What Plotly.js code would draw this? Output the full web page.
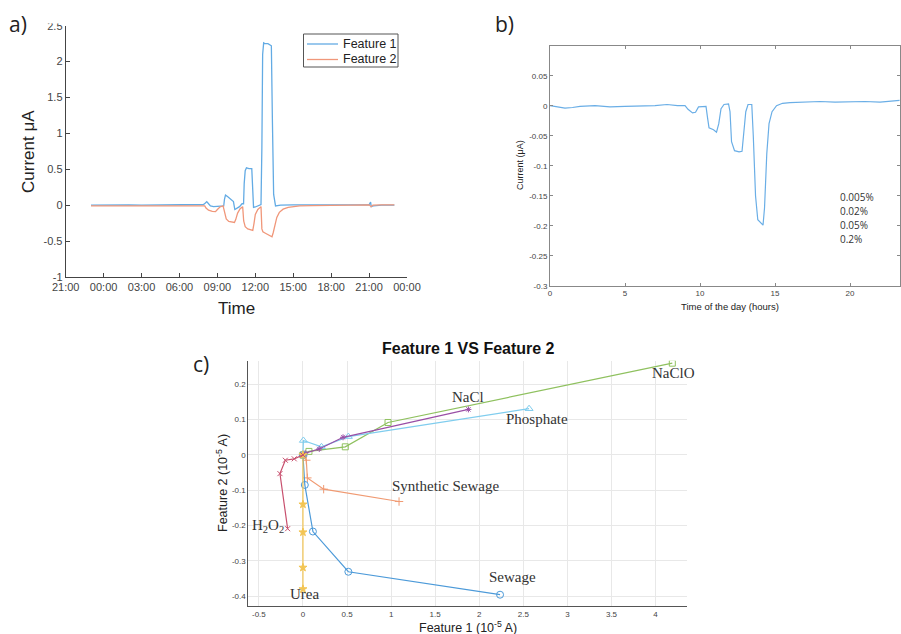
<!DOCTYPE html>
<html><head><meta charset="utf-8">
<script src="https://cdn.plot.ly/plotly-3.0.1.min.js"></script>
<style>html,body{margin:0;padding:0;background:#fff}#chart{width:901px;height:634px}</style>
</head><body><div id="chart"></div>
<script>
// ---------- Panel a: Feature 1 / Feature 2 vs time (hours from midnight) ----------
const timeTicksA = [-3, 0, 3, 6, 9, 12, 15, 18, 21, 24];
const timeLabelsA = ['21:00','00:00','03:00','06:00','09:00','12:00','15:00','18:00','21:00','00:00'];
const yTicksA = [-1, -0.5, 0, 0.5, 1, 1.5, 2, 2.5];
const yLabelsA = ['-1','-0.5','0','0.5','1','1.5','2','2.5'];
const seriesNamesA = ['Feature 1', 'Feature 2'];

const feat1Time = [-1, 0, 1, 2, 3, 4, 5, 6, 7, 7.9, 8.05, 8.16, 8.3, 8.45, 8.7, 9.0, 9.3, 9.5, 9.56, 9.64, 9.8, 10.0, 10.2, 10.27, 10.38, 10.55, 10.75, 10.95, 11.07, 11.12, 11.2, 11.3, 11.5, 11.72, 11.78, 11.86, 12.0, 12.2, 12.45, 12.52, 12.58, 12.66, 12.75, 13.0, 13.2, 13.27, 13.35, 13.45, 13.6, 14, 15, 16, 17, 18, 19, 20, 21, 21.12, 21.17, 21.22, 21.35, 22, 23];
const feat1Vals = [0, 0.005, 0, 0.005, 0, 0, 0.005, 0, 0.005, 0.01, 0.03, 0.05, 0.02, -0.01, -0.02, -0.02, -0.015, -0.01, 0.08, 0.14, 0.12, 0.085, 0.06, 0.05, -0.06, -0.045, -0.02, 0.02, 0.02, 0.3, 0.48, 0.52, 0.51, 0.51, 0.2, -0.03, -0.025, -0.01, 0.01, 0.8, 2.1, 2.26, 2.25, 2.25, 2.23, 2.22, 1.2, 0.15, -0.01, 0, 0.005, 0, 0.005, 0.005, 0.005, 0, 0.005, 0.045, -0.02, -0.015, -0.01, 0, 0];

const feat2Time = [-1, 0, 2, 4, 6, 7.5, 8.0, 8.1, 8.3, 8.6, 8.85, 9.0, 9.2, 9.45, 9.58, 9.7, 9.9, 10.1, 10.35, 10.45, 10.6, 10.8, 11.0, 11.08, 11.2, 11.4, 11.6, 11.8, 11.9, 12.0, 12.2, 12.45, 12.52, 12.6, 12.8, 13.0, 13.2, 13.32, 13.42, 13.55, 13.7, 13.9, 14.2, 14.6, 15.0, 15.5, 16.5, 18, 20, 21, 21.17, 21.3, 22, 23];
const feat2Vals = [-0.01, -0.01, -0.005, -0.005, -0.005, -0.005, -0.01, -0.04, -0.07, -0.085, -0.09, -0.06, -0.025, -0.01, -0.12, -0.19, -0.225, -0.235, -0.24, -0.2, -0.11, -0.05, -0.02, -0.22, -0.3, -0.33, -0.34, -0.35, -0.25, -0.13, -0.06, -0.02, -0.33, -0.37, -0.39, -0.405, -0.42, -0.44, -0.38, -0.27, -0.17, -0.1, -0.055, -0.03, -0.018, -0.01, -0.005, 0, 0.005, 0.005, -0.02, 0, 0.005, 0.005];

// ---------- Panel b: current vs time of day ----------
const hoursB = [0, 0.5, 1.0, 1.5, 2, 3, 4, 5, 6, 7, 7.8, 8.5, 9.0, 9.2, 9.5, 9.7, 9.9, 10.4, 10.5, 10.6, 10.9, 11.1, 11.25, 11.4, 11.6, 11.9, 12.0, 12.1, 12.3, 12.6, 12.8, 12.9, 13.05, 13.2, 13.45, 13.55, 13.7, 13.85, 14.1, 14.2, 14.3, 14.45, 14.6, 14.8, 15.1, 15.5, 16, 17, 18, 19, 20, 21, 22, 23, 23.3];
const currentB = [0, -0.002, -0.004, -0.003, -0.001, 0, -0.002, -0.001, -0.001, 0, 0.002, 0, 0, -0.006, -0.012, -0.011, -0.002, -0.001, -0.02, -0.037, -0.04, -0.044, -0.03, -0.005, 0.002, 0.003, -0.01, -0.06, -0.075, -0.077, -0.076, -0.05, -0.01, 0.002, 0.002, -0.05, -0.15, -0.19, -0.196, -0.199, -0.17, -0.08, -0.03, -0.01, 0, 0.004, 0.005, 0.006, 0.007, 0.006, 0.007, 0.007, 0.006, 0.008, 0.009];
const xTicksB = [0, 5, 10, 15, 20];
const yTicksB = [-0.3, -0.25, -0.2, -0.15, -0.1, -0.05, 0, 0.05];
const yLabelsB = ['-0.3','-0.25','-0.2','-0.15','-0.1','-0.05','0','0.05'];
const concLabels = ['0.005%', '0.02%', '0.05%', '0.2%'];

// ---------- Panel c: Feature 1 vs Feature 2 ----------
const naclo_x = [0, 0.068, 0.48, 0.965, 4.19];
const naclo_y = [0, 0.01, 0.023, 0.092, 0.26];
const nacl_x = [0, 0.025, 0.185, 0.455, 1.877];
const nacl_y = [0, 0.005, 0.017, 0.05, 0.129];
const phos_x = [0, 0.005, 0.21, 0.515, 2.565];
const phos_y = [0, 0.041, 0.023, 0.052, 0.131];
const synth_x = [0, 0.038, 0.05, 0.235, 1.09];
const synth_y = [0, -0.015, -0.065, -0.097, -0.132];
const sew_x = [0, 0.021, 0.113, 0.515, 2.236];
const sew_y = [0, -0.085, -0.217, -0.331, -0.396];
const urea_x = [0, 0, 0, 0, 0];
const urea_y = [0, -0.14, -0.219, -0.319, -0.38];
const h2o2_x = [0, -0.099, -0.2, -0.261, -0.174];
const h2o2_y = [0, -0.011, -0.015, -0.053, -0.209];
const xTicksC = [-0.5, 0, 0.5, 1, 1.5, 2, 2.5, 3, 3.5, 4];
const xLabelsC = ['-0.5','0','0.5','1','1.5','2','2.5','3','3.5','4'];
const yTicksC = [-0.4, -0.3, -0.2, -0.1, 0, 0.1, 0.2];
const yLabelsC = ['-0.4','-0.3','-0.2','-0.1','0','0.1','0.2'];

// ---------- layout helpers (pixel -> paper) ----------
const W = 901, H = 634;
const px = v => v / W;
const py = v => 1 - v / H;

const blueA = '#63abe4', orangeA = '#f0977a';
const sans = 'Liberation Sans, Arial, sans-serif';
const serif = 'Liberation Serif, Times New Roman, serif';

const traces = [
  {x: feat1Time, y: feat1Vals, xaxis: 'x', yaxis: 'y', mode: 'lines', name: seriesNamesA[0], showlegend: false, line: {color: blueA, width: 1.3}},
  {x: feat2Time, y: feat2Vals, xaxis: 'x', yaxis: 'y', mode: 'lines', name: seriesNamesA[1], showlegend: false, line: {color: orangeA, width: 1.3}},
  {x: hoursB, y: currentB, xaxis: 'x2', yaxis: 'y2', mode: 'lines', showlegend: false, line: {color: '#6aaee6', width: 1.2}},
];
function cTrace(xs, ys, color, symbol, size) {
  return {x: xs, y: ys, xaxis: 'x3', yaxis: 'y3', mode: 'lines+markers', showlegend: false,
    line: {color: color, width: 1.2},
    marker: {color: color, symbol: symbol, size: size, line: {color: color, width: 1}}};
}
traces.push(cTrace(naclo_x, naclo_y, '#8fc15f', 'square-open', 6));
traces.push(cTrace(phos_x, phos_y, '#80cdee', 'triangle-up-open', 7));
traces.push(cTrace(nacl_x, nacl_y, '#9a4fa6', 'asterisk-open', 5));
traces.push(cTrace(synth_x, synth_y, '#f09a72', 'cross-thin-open', 6));
traces.push(cTrace(sew_x, sew_y, '#4c9ad9', 'circle-open', 7));
traces.push(cTrace(urea_x, urea_y, '#f3c553', 'star', 6));
traces.push(cTrace(h2o2_x, h2o2_y, '#c8506e', 'x-thin-open', 5));

const tickFontA = {family: sans, size: 11, color: '#444'};
const tickFontS = {family: sans, size: 8, color: '#444'};

function ann(text, x, y, size, opts) {
  return Object.assign({text: text, x: px(x), y: py(y), xref: 'paper', yref: 'paper', showarrow: false,
    xanchor: 'center', yanchor: 'middle', font: {family: sans, size: size, color: '#222'}}, opts || {});
}
const labelFont = {family: 'Open Sans, sans-serif', size: 21, color: '#222'};
const serifFont = {family: serif, size: 15, color: '#333'};

const annotations = [
  ann('a)', 18, 24, 21, {font: labelFont}),
  ann('b)', 504, 24, 21, {font: labelFont}),
  ann('c)', 201, 364, 21, {font: labelFont}),
  ann('Current μA', 29, 151, 17, {textangle: -90}),
  ann('Time', 237, 308, 17),
  ann('Current (μA)', 520, 165, 9, {textangle: -90}),
  ann('Time of the day (hours)', 730, 306, 9.5),
  ann('<b>Feature 1 VS Feature 2</b>', 468, 348, 16, {font: {family: sans, size: 16, color: '#111'}}),
  ann('Feature 1 (10<sup>-5</sup> A)', 468, 627, 12.5),
  ann('Feature 2 (10<sup>-5</sup> A)', 222, 483, 12.5, {textangle: -90}),
  ann('NaClO', 673, 373, 15, {font: serifFont}),
  ann('NaCl', 468, 397, 15, {font: serifFont}),
  ann('Phosphate', 537, 419, 15, {font: serifFont}),
  ann('Synthetic Sewage', 445, 486, 15, {font: serifFont}),
  ann('H<sub>2</sub>O<sub>2</sub>', 268, 526, 15, {font: serifFont}),
  ann('Sewage', 512, 577, 15, {font: serifFont}),
  ann('Urea', 304, 594, 15, {font: serifFont}),
  // legend texts for panel a
  ann(seriesNamesA[0], 341, 44, 12.5, {xanchor: 'left', font: {family: sans, size: 12.5, color: '#222'}}),
  ann(seriesNamesA[1], 341, 59.5, 12.5, {xanchor: 'left', font: {family: sans, size: 12.5, color: '#222'}}),
];
const concY = [197, 211, 225, 239];
concLabels.forEach((t, i) => annotations.push(ann(t, 838, concY[i], 10,
  {xanchor: 'left', font: {family: 'Open Sans, sans-serif', size: 10, color: '#333'}})));

const shapes = [
  {type: 'rect', xref: 'paper', yref: 'paper', x0: px(35), x1: px(64), y0: py(23.5), y1: 1,
    fillcolor: '#fff', line: {width: 0}, layer: 'above'},
  // legend box and samples (panel a)
  {type: 'rect', xref: 'paper', yref: 'paper', x0: px(303.5), x1: px(398), y0: py(67), y1: py(34),
    fillcolor: '#fff', line: {color: '#555', width: 1}, layer: 'above'},
  {type: 'line', xref: 'paper', yref: 'paper', x0: px(307), x1: px(338), y0: py(44), y1: py(44),
    line: {color: blueA, width: 1.3}, layer: 'above'},
  {type: 'line', xref: 'paper', yref: 'paper', x0: px(307), x1: px(338), y0: py(59.5), y1: py(59.5),
    line: {color: orangeA, width: 1.3}, layer: 'above'},
];

const layout = {
  width: W, height: H,
  margin: {l: 0, r: 0, t: 0, b: 0},
  paper_bgcolor: '#fff', plot_bgcolor: 'rgba(0,0,0,0)',
  showlegend: false,
  xaxis: {domain: [px(65.7), px(407)], range: [-3, 24], tickvals: timeTicksA, ticktext: timeLabelsA,
    showline: true, linecolor: '#444', linewidth: 1, ticks: 'inside', ticklen: 4, tickcolor: '#444',
    showgrid: false, zeroline: false, tickfont: tickFontA, anchor: 'y'},
  yaxis: {domain: [py(277), py(25.7)], range: [-1, 2.5], tickvals: yTicksA, ticktext: yLabelsA,
    showline: true, linecolor: '#444', linewidth: 1, ticks: 'inside', ticklen: 4, tickcolor: '#444',
    showgrid: false, zeroline: false, tickfont: tickFontA, anchor: 'x'},
  xaxis2: {domain: [px(550), px(900)], range: [0, 23.33], tickvals: xTicksB,
    showline: true, mirror: 'ticks', linecolor: '#888', linewidth: 1, ticks: 'inside', ticklen: 3, tickcolor: '#888',
    showgrid: false, zeroline: false, tickfont: tickFontS, anchor: 'y2'},
  yaxis2: {domain: [py(285.7), py(45.7)], range: [-0.3, 0.1], tickvals: yTicksB, ticktext: yLabelsB,
    showline: true, mirror: 'ticks', linecolor: '#888', linewidth: 1, ticks: 'inside', ticklen: 3, tickcolor: '#888',
    showgrid: false, zeroline: false, tickfont: tickFontS, anchor: 'x2'},
  xaxis3: {domain: [px(248.3), px(687.3)], range: [-0.62, 4.36], tickvals: xTicksC, ticktext: xLabelsC,
    showline: true, linecolor: '#555', linewidth: 1, ticks: '', showgrid: true, gridcolor: '#e8e8e8',
    zeroline: false, tickfont: tickFontS, anchor: 'y3'},
  yaxis3: {domain: [py(606), py(360.7)], range: [-0.428, 0.267], tickvals: yTicksC, ticktext: yLabelsC,
    showline: true, linecolor: '#555', linewidth: 1, ticks: '', showgrid: true, gridcolor: '#e8e8e8',
    zeroline: false, tickfont: tickFontS, anchor: 'x3'},
  annotations: annotations,
  shapes: shapes
};

Plotly.newPlot('chart', traces, layout, {displayModeBar: false, staticPlot: true});
</script></body></html>
